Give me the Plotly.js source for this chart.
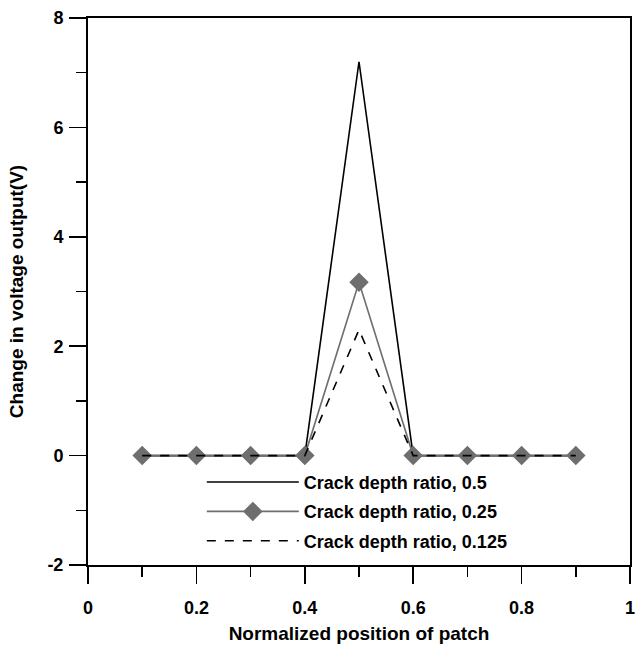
<!DOCTYPE html>
<html>
<head>
<meta charset="utf-8">
<script src="https://cdn.plot.ly/plotly-3.0.1.min.js"></script>
<style>html,body{margin:0;padding:0;background:#fff;}#chart{width:637px;height:650px;}</style>
</head>
<body>
<div id="chart"></div>
<script>
const positions = [0.1, 0.2, 0.3, 0.4, 0.5, 0.6, 0.7, 0.8, 0.9];
const crack050 = [0, 0, 0, 0, 7.2, 0, 0, 0, 0];
const crack025 = [0, 0, 0, 0, 3.17, 0, 0, 0, 0];
const crack0125 = [0, 0, 0, 0, 2.3, 0, 0, 0, 0];
const seriesNames = ["Crack depth ratio, 0.5", "Crack depth ratio, 0.25", "Crack depth ratio, 0.125"];
const yTickVals = [-2, 0, 2, 4, 6, 8];
const yTickText = ["-2", "0", "2", "4", "6", "8"];
const xTickVals = [0, 0.2, 0.4, 0.6, 0.8, 1];
const xTickText = ["0", "0.2", "0.4", "0.6", "0.8", "1"];

const fontFam = "Liberation Sans, Arial, sans-serif";
const traces = [
  {x: positions, y: crack050, name: seriesNames[0], mode: "lines", legendgroup: "a",
   line: {color: "#000", width: 1.6}},
  {x: positions, y: crack025, name: seriesNames[1], mode: "lines+markers", legendgroup: "b",
   line: {color: "#6e6e6e", width: 1.6},
   marker: {symbol: "diamond", size: 15, color: "#6e6e6e"}},
  {x: positions, y: crack0125, name: seriesNames[2], mode: "lines", legendgroup: "c",
   line: {color: "#000", width: 1.6, dash: "dash"}}
];
const axisCommon = {
  showgrid: false, zeroline: false, showline: true, linecolor: "#000", linewidth: 2,
  mirror: true, ticks: "outside", ticklen: 17, tickwidth: 1.5, tickcolor: "#000",
  ticklabeloverflow: "allow",
  tickfont: {family: fontFam, size: 18, color: "#000", weight: "bold"},
  minor: {ticks: "outside", ticklen: 10, tickwidth: 1.5, tickcolor: "#000"}
};
const layout = {
  width: 637, height: 650,
  margin: {l: 88, r: 7, t: 18, b: 85},
  paper_bgcolor: "#fff", plot_bgcolor: "#fff",
  showlegend: true,
  legend: {x: 0.21, y: 0.185, xanchor: "left", yanchor: "top",
    bgcolor: "rgba(0,0,0,0)", itemwidth: 92, traceorder: "grouped", tracegroupgap: 3,
    font: {family: fontFam, size: 18, color: "#000", weight: "bold"}},
  xaxis: Object.assign({}, axisCommon, {
    range: [0, 1], tickmode: "array", tickvals: xTickVals, ticktext: xTickText,
    ticklabelstandoff: 8,
    minor: Object.assign({}, axisCommon.minor, {dtick: 0.1}),
    title: {text: "Normalized position of patch", standoff: 10,
      font: {family: fontFam, size: 19, color: "#000", weight: "bold"}}
  }),
  yaxis: Object.assign({}, axisCommon, {
    range: [-2, 8], tickmode: "array", tickvals: yTickVals, ticktext: yTickText,
    ticklabelstandoff: 2,
    minor: Object.assign({}, axisCommon.minor, {dtick: 1}),
    title: {text: "Change in voltage output(V)", standoff: 19,
      font: {family: fontFam, size: 19, color: "#000", weight: "bold"}}
  })
};
Plotly.newPlot("chart", traces, layout, {displayModeBar: false, staticPlot: true});
</script>
</body>
</html>
